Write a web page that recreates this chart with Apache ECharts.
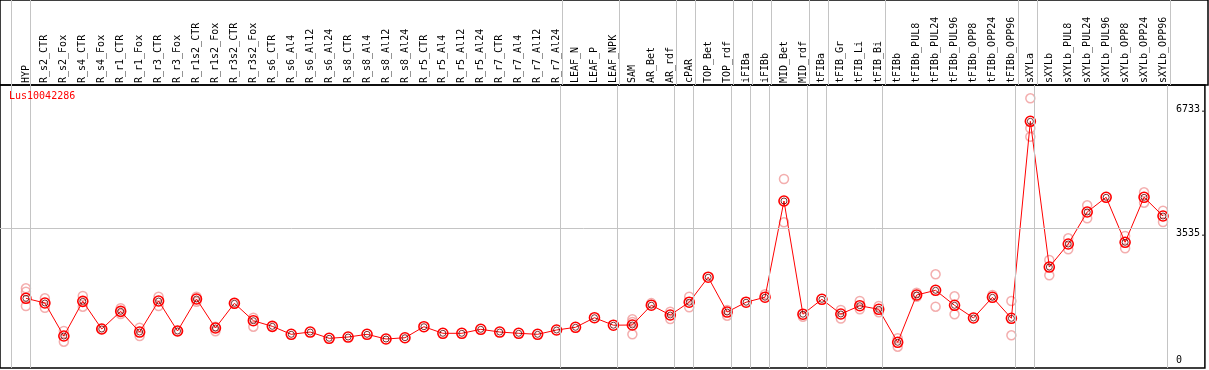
<!DOCTYPE html>
<html>
<head>
<meta charset="utf-8">
<script src="https://cdn.jsdelivr.net/npm/echarts@6/dist/echarts.min.js"></script>
<style>
  html, body { margin: 0; padding: 0; background: #fff; }
  #container { width: 1209px; height: 370px; }
</style>
</head>
<body>
<div id="container"></div>
<script>
var geneName = 'Lus10042286';

var categories = ['HYP', 'R_s2_CTR', 'R_s2_Fox', 'R_s4_CTR', 'R_s4_Fox', 'R_r1_CTR', 'R_r1_Fox', 'R_r3_CTR', 'R_r3_Fox',
    'R_r1s2_CTR', 'R_r1s2_Fox', 'R_r3s2_CTR', 'R_r3s2_Fox', 'R_s6_CTR', 'R_s6_Al4', 'R_s6_Al12', 'R_s6_Al24',
    'R_s8_CTR', 'R_s8_Al4', 'R_s8_Al12', 'R_s8_Al24', 'R_r5_CTR', 'R_r5_Al4', 'R_r5_Al12', 'R_r5_Al24',
    'R_r7_CTR', 'R_r7_Al4', 'R_r7_Al12', 'R_r7_Al24', 'LEAF_N', 'LEAF_P', 'LEAF_NPK', 'SAM', 'AR_Bet', 'AR_rdf',
    'cPAR', 'TOP_Bet', 'TOP_rdf', 'iFIBa', 'iFIBb', 'MID_Bet', 'MID_rdf', 'tFIBa', 'tFIB_Gr', 'tFIB_Li', 'tFIB_Bi',
    'tFIBb', 'tFIBb_PUL8', 'tFIBb_PUL24', 'tFIBb_PUL96', 'tFIBb_OPP8', 'tFIBb_OPP24', 'tFIBb_OPP96',
    'sXYLa', 'sXYLb', 'sXYLb_PUL8', 'sXYLb_PUL24', 'sXYLb_PUL96', 'sXYLb_OPP8', 'sXYLb_OPP24', 'sXYLb_OPP96'];

// mean expression per sample
var means = [1721, 1600, 748, 1643, 929, 1385, 851, 1651, 877,
    1703, 955, 1592, 1143, 998, 792, 851, 689,
    722, 792, 671, 704, 988, 818, 818, 921,
    851, 818, 792, 903, 973, 1220, 1027, 1032, 1543, 1290,
    1620, 2265, 1367, 1620, 1749, 4231, 1311, 1695, 1316, 1530, 1437,
    586, 1806, 1927, 1540, 1213, 1747, 1205,
    6287, 2528, 3122, 3947, 4327, 3166, 4327, 3844];

// individual replicates
var replicates = [[1979, 1891, 1522], [1721, 1478], [877, 601], [1780, 1504], [929], [1463, 1316], [962, 748], [1762, 1522], [877],
    [1762, 1633], [988, 869], [1592], [1220, 988], [], [], [], [],
    [], [], [], [], [], [], [], [],
    [], [], [], [], [], [], [], [1179, 1109, 792], [1597], [1375, 1187],
    [1762, 1489], [], [1419, 1272], [], [1824], [4799, 3682], [1246], [], [1419, 1200], [1651, 1437], [1522, 1360],
    [689, 472], [1865, 1762], [2340, 1504], [1772, 1308], [], [1806], [1651, 766],
    [6881, 6107, 5890], [2709, 2314], [3269, 2985], [4120, 3785], [], [3328, 3011], [4456, 4187], [3981, 3689]];

// last sample index of each group (-1 = before the first)
var groupEnds = [-1, 0, 28, 31, 34, 35, 37, 38, 39, 41, 42, 45, 52, 53, 60];
var yLabels = [3535, 6733];
var gridValue = 3535;

var catIdx = categories.map(function (c, i) { return i; });
var meanData = means.map(function (v, i) { return [i, v]; });
var repData = [];
replicates.forEach(function (list, i) {
    list.forEach(function (v) { repData.push([i, v]); });
});

var xMin = -26 / 19;
var xMax = 1182 / 19;
var sepOffset = 4 / 19;
var yMin = -77;
var yMax = 7224;
var font = 'DejaVu Sans Mono';

var sepLines = groupEnds.map(function (g) { return { xAxis: g + sepOffset }; });
var plotLines = sepLines.concat([[{ coord: [xMin, gridValue] }, { coord: [60 + sepOffset, gridValue] }]]);

var markStyle = {
    silent: true,
    symbol: 'none',
    label: { show: false },
    lineStyle: { color: '#c4c4c4', width: 1, type: 'solid' }
};

var myChart = echarts.init(document.getElementById('container'));

var option = {
    animation: false,
    title: {
        text: geneName,
        left: 9,
        top: 91,
        padding: 0,
        textStyle: { color: '#ff0000', fontSize: 10, fontFamily: font, fontWeight: 'normal' }
    },
    grid: [{
        // plot
        left: 0, top: 85, right: 1, bottom: 2,
        show: true,
        borderColor: '#000',
        borderWidth: 1.5
    }, {
        // header with the sample names
        left: 0, top: 0, right: 1, height: 85,
        show: true,
        borderColor: '#000',
        borderWidth: 1.5
    }],
    xAxis: [{
        type: 'value',
        gridIndex: 0,
        min: xMin,
        max: xMax,
        position: 'top',
        axisLine: { show: false },
        axisTick: { show: false },
        splitLine: { show: false },
        axisLabel: {
            customValues: catIdx,
            rotate: 90,
            margin: 2,
            color: '#000',
            fontSize: 10,
            fontFamily: font,
            formatter: function (v) { return categories[v]; }
        }
    }, {
        type: 'value',
        gridIndex: 1,
        min: xMin,
        max: xMax,
        show: false
    }],
    yAxis: [{
        type: 'value',
        gridIndex: 0,
        position: 'right',
        min: yMin,
        max: yMax,
        axisLine: { show: false },
        axisTick: { show: false },
        splitLine: { show: false },
        axisLabel: {
            customValues: yLabels,
            inside: true,
            align: 'left',
            verticalAlign: 'top',
            margin: 29,
            color: '#000',
            fontSize: 10,
            fontFamily: font,
            formatter: function (v) { return v + '.'; }
        }
    }, {
        type: 'value',
        gridIndex: 0,
        position: 'right',
        min: yMin,
        max: yMax,
        axisLine: { show: false },
        axisTick: { show: false },
        splitLine: { show: false },
        axisLabel: {
            customValues: [0],
            inside: true,
            align: 'left',
            verticalAlign: 'bottom',
            margin: 29,
            color: '#000',
            fontSize: 10,
            fontFamily: font
        }
    }, {
        type: 'value',
        gridIndex: 1,
        min: 0,
        max: 1,
        show: false
    }],
    series: [{
        name: 'header',
        type: 'line',
        xAxisIndex: 1,
        yAxisIndex: 2,
        data: [],
        markLine: Object.assign({ data: sepLines }, markStyle)
    }, {
        name: 'replicates',
        type: 'scatter',
        data: repData,
        symbol: 'circle',
        symbolSize: 9,
        itemStyle: { color: 'rgba(0,0,0,0)', borderColor: '#f09a9a', borderWidth: 1.5 },
        markLine: Object.assign({ data: plotLines }, markStyle),
        z: 2
    }, {
        name: 'mean',
        type: 'line',
        data: meanData,
        symbol: 'circle',
        symbolSize: 10,
        showAllSymbol: true,
        lineStyle: { color: '#ff0000', width: 1 },
        itemStyle: { color: 'rgba(0,0,0,0)', borderColor: '#ff0000', borderWidth: 1.6 },
        z: 3
    }, {
        name: 'mean-inner',
        type: 'scatter',
        data: meanData,
        symbol: 'circle',
        symbolSize: 6,
        itemStyle: { color: 'rgba(0,0,0,0)', borderColor: '#5a0000', borderWidth: 1 },
        z: 4
    }]
};

myChart.setOption(option);
</script>
</body>
</html>
